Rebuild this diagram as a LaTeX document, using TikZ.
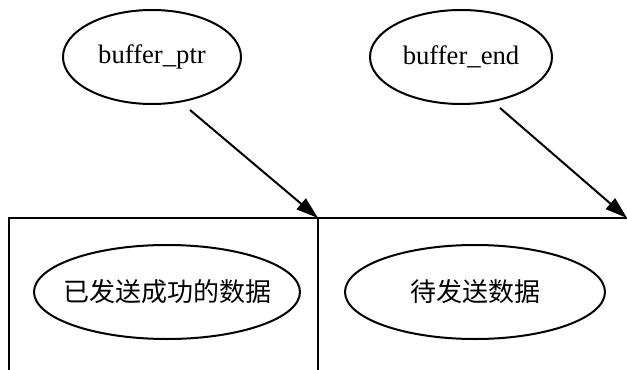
\documentclass[tikz,border=0pt]{standalone}
\usepackage{fontspec}
\setmainfont{Liberation Serif}
\newfontfamily\cjk{Noto Sans CJK SC}
\usetikzlibrary{shapes.geometric,arrows.meta}
\begin{document}
\begin{tikzpicture}[x=0.75pt,y=-0.75pt,
  ring/.style={line width=1.5pt},
  lbl/.style={font=\fontsize{20}{24}\selectfont},
  clbl/.style={font=\cjk\fontsize{19.5}{23}\selectfont},
  wall/.style={line width=1.5pt},
  ptr/.style={line width=1.5pt,-{Triangle[length=22pt*0.75,width=14pt*0.75]}}]
\useasboundingbox (0,0) rectangle (627,370);
\node[lbl] (bp) at (152,57) {buffer\_ptr};
\draw[ring] (bp.center) ellipse [x radius=89, y radius=47];
\node[lbl] (be) at (461,57) {buffer\_end};
\draw[ring] (be.center) ellipse [x radius=91, y radius=47];
\node[clbl] (sent) at (167,292) {已发送成功的数据};
\draw[ring] (sent.center) ellipse [x radius=133, y radius=47];
\node[clbl] (tosend) at (475,292) {待发送数据};
\draw[ring] (tosend.center) ellipse [x radius=130, y radius=47];
\coordinate (tl) at (9,218);
\coordinate (bl) at (9,370);
\coordinate (mid) at (318,218);
\coordinate (midb) at (318,370);
\coordinate (tr) at (627,218);
\coordinate (bpt) at (190,110);
\coordinate (bet) at (500,108);
\draw[wall] (bl) -- (tl) -- (tr);
\draw[wall] (mid) -- (midb);
\draw[ptr] (bpt) -- (mid);
\draw[ptr] (bet) -- (tr);
\end{tikzpicture}
\end{document}
